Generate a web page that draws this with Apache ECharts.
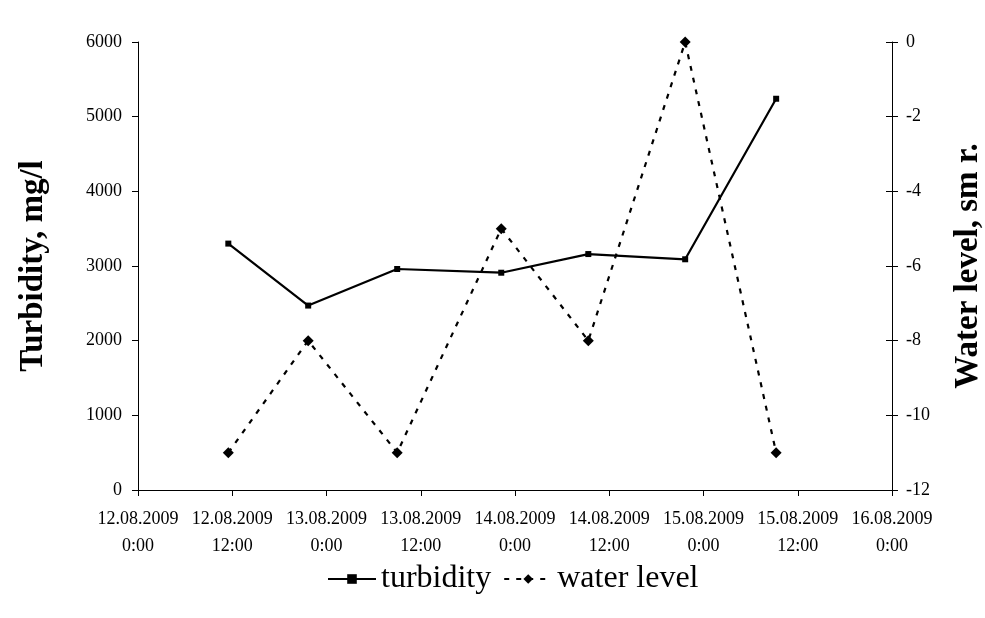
<!DOCTYPE html>
<html>
<head>
<meta charset="utf-8">
<script src="https://cdn.jsdelivr.net/npm/echarts@6/dist/echarts.min.js"></script>
<style>
html,body{margin:0;padding:0;background:#fff;}
#chart{width:985px;height:618px;}
</style>
</head>
<body>
<div id="chart"></div>
<script>
// Sample times (dd.mm.yyyy hh:mm)
const sampleTimes = ["12.08.2009 11:30","12.08.2009 21:40","13.08.2009 09:00","13.08.2009 22:15","14.08.2009 09:20","14.08.2009 21:40","15.08.2009 09:15"];
const turbidity = [3300, 2470, 2960, 2910, 3160, 3090, 5240];
const waterLevel = [-11, -8, -11, -5, -8, 0, -11];
const seriesNames = ["turbidity", "water level"];
const axisTitles = ["Turbidity, mg/l", "Water level, sm r."];
const startDay = "12.08.2009";

function parseDay(s){const p=s.split('.');return {d:+p[0],m:+p[1],y:+p[2]};}
const base = parseDay(startDay);
const baseUTC = Date.UTC(base.y, base.m-1, base.d);
function hoursOf(s){
  const [day, hm] = s.split(' ');
  const d = parseDay(day);
  const [h, mi] = hm.split(':').map(Number);
  return (Date.UTC(d.y, d.m-1, d.d, h, mi) - baseUTC) / 3600000;
}
function pad(n){return (n<10?'0':'')+n;}
function labelOf(hours){
  const t = new Date(baseUTC + hours*3600000);
  return pad(t.getUTCDate())+'.'+pad(t.getUTCMonth()+1)+'.'+t.getUTCFullYear()+'\n'+t.getUTCHours()+':'+pad(t.getUTCMinutes());
}
const xs = sampleTimes.map(hoursOf);

const font = "'Liberation Serif', 'Times New Roman', serif";
const chart = echarts.init(document.getElementById('chart'));
chart.setOption({
  backgroundColor: '#fff',
  animation: false,
  textStyle: {fontFamily: font, color: '#000'},
  grid: {left: 138, right: 93, top: 42, bottom: 128, containLabel: false, outerBoundsMode: 'none'},
  legend: {
    top: 558, left: 322,
    itemWidth: 48, itemHeight: 12, itemGap: 12,
    textStyle: {fontFamily: font, fontSize: 32, color: '#000'},
    data: seriesNames
  },
  xAxis: {
    type: 'value', min: 0, max: 96, interval: 12,
    axisLine: {lineStyle: {color: '#000', width: 1}},
    axisTick: {length: 6, lineStyle: {color: '#000'}},
    splitLine: {show: false},
    axisLabel: {
      fontFamily: font, fontSize: 18, color: '#000', lineHeight: 27, margin: 16,
      formatter: v => labelOf(v)
    }
  },
  yAxis: [
    {
      type: 'value', min: 0, max: 6000, interval: 1000, position: 'left',
      name: axisTitles[0], nameLocation: 'middle', nameGap: 88, nameRotate: 90,
      nameTextStyle: {fontFamily: font, fontSize: 33, fontWeight: 'bold', color: '#000'},
      axisLine: {show: true, lineStyle: {color: '#000', width: 1}},
      axisTick: {show: true, length: 6, lineStyle: {color: '#000'}},
      splitLine: {show: false},
      axisLabel: {fontFamily: font, fontSize: 18, color: '#000', margin: 16, formatter: v => String(v)}
    },
    {
      type: 'value', min: -12, max: 0, interval: 2, position: 'right',
      name: axisTitles[1], nameLocation: 'middle', nameGap: 60, nameRotate: 90,
      nameTextStyle: {fontFamily: font, fontSize: 33, fontWeight: 'bold', color: '#000'},
      axisLine: {show: true, lineStyle: {color: '#000', width: 1}},
      axisTick: {show: true, length: 6, lineStyle: {color: '#000'}},
      splitLine: {show: false},
      axisLabel: {fontFamily: font, fontSize: 18, color: '#000', margin: 14}
    },
    {
      type: 'value', min: -12, max: 0, interval: 2, position: 'right',
      axisLine: {show: false},
      axisTick: {show: true, inside: true, length: 6, lineStyle: {color: '#000'}},
      splitLine: {show: false},
      axisLabel: {show: false}
    }
  ],
  series: [
    {
      name: seriesNames[0], type: 'line', yAxisIndex: 0,
      data: xs.map((x, i) => [x, turbidity[i]]),
      symbol: 'rect', symbolSize: 6,
      lineStyle: {color: '#000', width: 2.2},
      itemStyle: {color: '#000'}
    },
    {
      name: seriesNames[1], type: 'line', yAxisIndex: 1,
      data: xs.map((x, i) => [x, waterLevel[i]]),
      symbol: 'diamond', symbolSize: 11,
      lineStyle: {color: '#000', width: 2.2, type: [5, 7]},
      itemStyle: {color: '#000'}
    }
  ]
});
</script>
</body>
</html>
